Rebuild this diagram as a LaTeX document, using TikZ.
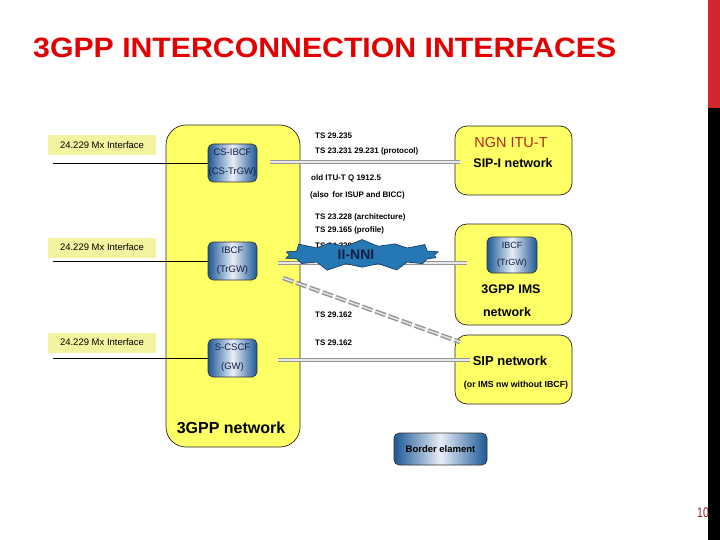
\documentclass[tikz,border=0pt]{standalone}
\usepackage{fontspec}
\setmainfont{Liberation Sans}
\usetikzlibrary{shapes.symbols,calc}
\definecolor{yfill}{RGB}{255,255,102}
\definecolor{mxfill}{RGB}{244,244,160}
\definecolor{bdark}{RGB}{28,88,150}
\definecolor{blight}{RGB}{232,238,246}
\definecolor{navy}{RGB}{20,30,70}
\definecolor{titlered}{RGB}{228,0,0}
\definecolor{ngnred}{RGB}{180,40,25}
\definecolor{burstblue}{RGB}{38,120,180}
\definecolor{burstline}{RGB}{20,50,90}
\definecolor{barred}{RGB}{210,40,45}
\definecolor{pagered}{RGB}{140,40,40}
\definecolor{pipegray}{RGB}{150,150,150}
\definecolor{pipelight}{RGB}{232,232,232}
\begin{document}
\begin{tikzpicture}[x=1pt,y=-1pt,
  net/.style={draw=black!85, line width=0.7pt, fill=yfill, rounded corners=12pt, inner sep=0pt},
  gwbox/.style={draw=black!80, line width=0.6pt, rounded corners=5pt, left color=bdark, right color=bdark, middle color=blight,
     minimum width=49pt, minimum height=38pt, inner sep=0pt, align=center, text=navy, font=\fontsize{9.5}{19}\selectfont},
  mxlabel/.style={fill=mxfill, minimum width=108pt, minimum height=20pt, inner sep=0pt, font=\fontsize{9.5}{11}\selectfont},
  tslabel/.style={anchor=base west, inner sep=0pt, font=\fontsize{8}{9}\bfseries},
  bigtext/.style={inner sep=0pt, font=\fontsize{12.5}{14}\bfseries},
  pipe/.style={draw=pipegray, line width=1.5pt, double=pipelight, double distance=1.4pt},
  mxline/.style={draw=black, line width=0.8pt}
]
\useasboundingbox (0,0) rectangle (720,540);

% title
\node[anchor=base west, inner sep=0pt, text=titlered, font=\fontsize{28}{30}\bfseries] (title) at (33,58) {\scalebox{1.08}[1]{3GPP INTERCONNECTION INTERFACES}};

% big 3GPP network
\node[net, rounded corners=20pt, minimum width=134pt, minimum height=322pt] (gpp) at (233,286) {};
\node[inner sep=0pt, font=\fontsize{16}{18}\bfseries, anchor=base] (gpptxt) at (231,433) {3GPP network};

% right networks
\node[net, minimum width=117pt, minimum height=69pt] (ngn) at (513.5,160.5) {};
\node[inner sep=0pt, anchor=base, text=ngnred, font=\fontsize{14.5}{16}\selectfont] (ngnt) at (511,148) {NGN ITU-T};
\node[bigtext, anchor=base] (ngnt2) at (513,168) {SIP-I network};

\node[net, minimum width=117pt, minimum height=101pt] (ims) at (513.5,274.5) {};
\node[gwbox, minimum width=50pt, minimum height=36pt, font=\fontsize{9}{17}\selectfont] (ibcf2) at (512,255) {IBCF\\(TrGW)};
\node[bigtext, anchor=base] (imst1) at (511,293) {3GPP IMS};
\node[bigtext, anchor=base] (imst2) at (507,316) {network};

\node[net, minimum width=117pt, minimum height=69pt] (sip) at (513.5,369.5) {};
\node[bigtext, font=\fontsize{13}{15}\bfseries, anchor=base] (sipt1) at (510,365) {SIP network};
\node[inner sep=0pt, anchor=base, font=\fontsize{8.8}{10}\bfseries] (sipt2) at (516,387) {(or IMS nw without IBCF)};

% border element legend
\node[gwbox, minimum width=93pt, minimum height=32pt, text=black, font=\fontsize{9.5}{11}\bfseries] (border) at (440.5,449) {Border elament};

% TS labels
\node[tslabel] (ts1) at (315,139) {TS 29.235};
\node[tslabel] (ts2) at (315,154) {TS 23.231 29.231 (protocol)};
\node[tslabel] (ts3) at (311,181) {old ITU-T Q 1912.5};
\node[tslabel] (ts4) at (310,197) {(also\, for ISUP and BICC)};
\node[tslabel] (ts5) at (315,219) {TS 23.228 (architecture)};
\node[tslabel] (ts6) at (315,233) {TS 29.165 (profile)};
\node[tslabel] (ts7) at (315,248) {TS 24.229};
\node[tslabel] (ts8) at (315,317) {TS 29.162};
\node[tslabel] (ts9) at (315,345) {TS 29.162};

% gateway boxes in 3GPP network
\node[gwbox] (csibcf) at (232.5,163) {CS-IBCF\\(CS-TrGW)};
\node[gwbox] (ibcf) at (232.5,261) {IBCF\\(TrGW)};
\node[gwbox] (scscf) at (232.5,358) {S-CSCF\\(GW)};

% Mx interface labels and lines
\node[mxlabel] (mx1) at (102,145) {24.229 Mx Interface};
\node[mxlabel] (mx2) at (102,247.5) {24.229 Mx Interface};
\node[mxlabel] (mx3) at (102,342.5) {24.229 Mx Interface};
\coordinate (mx1c) at (53,163);
\coordinate (mx2c) at (53,261);
\coordinate (mx3c) at (53,358);
\draw[mxline] (mx1c) -- (csibcf.west);
\draw[mxline] (mx2c) -- (ibcf.west);
\draw[mxline] (mx3c) -- (scscf.west);

% pipes
\coordinate (p1s) at (270,162);
\coordinate (p2s) at (278,263);
\coordinate (p3s) at (283,278);
\coordinate (p3e) at (460,342);
\coordinate (p4s) at (278,360);
\draw[pipe] (p1s) -- ($(p1s -| ngn.west)+(5,0)$);
\draw[pipe] (p2s) -- ($(p2s -| ims.west)+(12,0)$);
\draw[pipe, dash pattern=on 11pt off 3pt] (p3s) -- (p3e);
\draw[pipe] (p4s) -- ($(p4s -| sip.west)+(15,0)$);

% II-NNI burst
\node[starburst, starburst points=14, starburst point height=9pt,
      draw=burstline, line width=0.6pt, fill=burstblue, minimum width=163pt, minimum height=36pt,
      inner sep=0pt, text=navy, font=\fontsize{14}{16}\bfseries] (nni) at (362,255) {\hspace*{-12pt}II-NNI};

% side bars and page number
\node[anchor=base west, inner sep=0pt, text=pagered, font=\fontsize{14}{16}\selectfont] (pg) at (697,517) {\scalebox{0.75}[1]{10}};
\fill[barred] (708,0) rectangle (720,108);
\fill[black] (708,108) rectangle (720,540);
\end{tikzpicture}
\end{document}
